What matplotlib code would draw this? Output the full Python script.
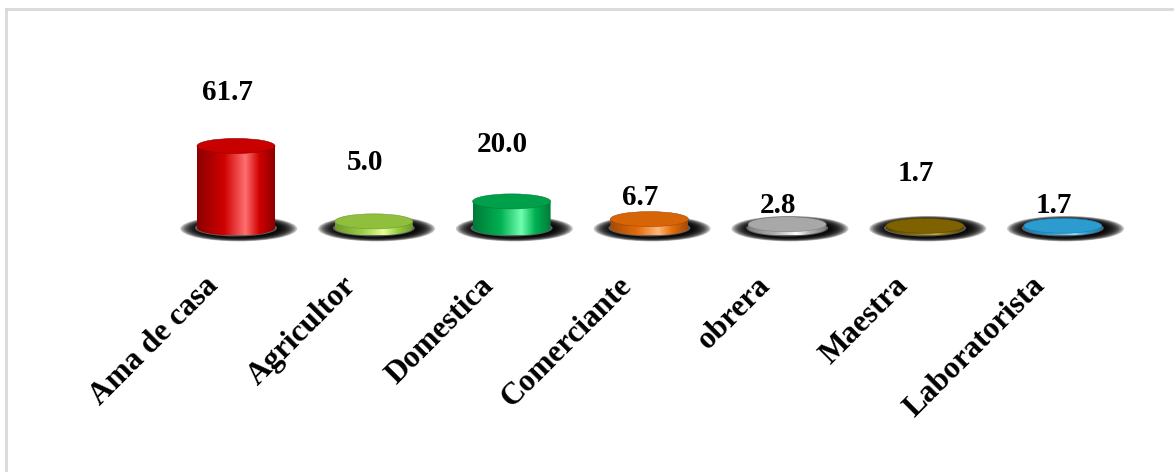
import numpy as np
import matplotlib
matplotlib.use('Agg')
import matplotlib.pyplot as plt
from matplotlib.patches import Ellipse, PathPatch
from matplotlib.path import Path
from matplotlib.lines import Line2D
from matplotlib.colors import LinearSegmentedColormap


categories = ['Ama de casa', 'Agricultor', 'Domestica', 'Comerciante',
              'obrera', 'Maestra', 'Laboratorista']
values = [61.7, 5.0, 20.0, 6.7, 2.8, 1.7, 1.7]
value_labels = ['61.7', '5.0', '20.0', '6.7', '2.8', '1.7', '1.7']

# (dark edge, base, highlight, top face) per bar
bar_colors = [
    ('#8c0000', '#d00000', '#ff7070', '#c80000'),
    ('#6f9a2a', '#9acd45', '#e4ff9a', '#8fbf3c'),
    ('#007a3a', '#00b050', '#70ffb0', '#00a04a'),
    ('#a34a06', '#e46c0a', '#ffb878', '#d86408'),
    ('#808080', '#b0b0b0', '#ffffff', '#a8a8a8'),
    ('#5a4300', '#8a6a00', '#c8a830', '#7f6200'),
    ('#1a78a8', '#2aa0d8', '#90e0ff', '#2b9bd0'),
]
# Excel placed the value labels at two different heights (pixels above bar top)
label_lift_px = [53, 59, 57, 22, 19, 52, 20]

W, H = 1174, 472
X0, DX = 236, 137.8        # pixel of first bar centre, spacing
BASE, PXY = 244, 1.33      # baseline pixels from bottom, pixels per unit

fig = plt.figure(figsize=(W / 100, H / 100), dpi=100)
ax = fig.add_axes([0, 0, 1, 1])
ax.set_axis_off()

bw = 78 / DX
eh = 15 / PXY

for i, (v, cols) in enumerate(zip(values, bar_colors)):
    dark, base, light, top = cols
    # blurred shadow
    for k in range(12):
        f = k / 11
        ax.add_patch(Ellipse((i + 0.02, -0.5), bw * (1.5 - 0.45 * f), eh * (1.7 - 0.5 * f),
                             facecolor='black', edgecolor='none', alpha=0.22, zorder=1))
    ax.add_patch(Ellipse((i, 0), bw * 1.05, eh * 1.12, facecolor='white',
                         edgecolor='none', alpha=0.35, zorder=2))
    # body
    t = np.linspace(np.pi, 2 * np.pi, 60)
    verts = [(i - bw / 2, v), (i - bw / 2, 0)]
    verts += list(zip(i + bw / 2 * np.cos(t), eh / 2 * np.sin(t)))
    verts += [(i + bw / 2, v), (i - bw / 2, v)]
    codes = [Path.MOVETO] + [Path.LINETO] * (len(verts) - 2) + [Path.CLOSEPOLY]
    body = PathPatch(Path(verts, codes), facecolor='none', edgecolor='none', zorder=3)
    ax.add_patch(body)
    cmap = LinearSegmentedColormap.from_list(
        'c%d' % i, [(0, dark), (0.35, base), (0.62, light), (0.8, base), (1, dark)])
    grad = np.linspace(0, 1, 256).reshape(1, -1)
    im = ax.imshow(grad, cmap=cmap, aspect='auto', interpolation='bilinear',
                   extent=[i - bw / 2, i + bw / 2, -eh / 2, v], zorder=3)
    im.set_clip_path(body)
    # top face
    ax.add_patch(Ellipse((i, v), bw, eh, facecolor=top, edgecolor=dark,
                         linewidth=0.4, zorder=4))
    # value label
    ax.annotate(value_labels[i], (i, v), xytext=(-9, label_lift_px[i]),
                textcoords='offset pixels', ha='center', va='center',
                fontsize=21, fontweight='bold', family='Liberation Serif', zorder=5)
    # category label
    ax.annotate(categories[i], (i, 0), xytext=(-32, -43),
                textcoords='offset pixels', ha='right', va='top', rotation=45,
                rotation_mode='anchor', fontsize=22.5, fontweight='bold',
                family='Liberation Serif')

ax.set_xlim(-X0 / DX, (W - X0) / DX)
ax.set_ylim(-BASE / PXY, (H - BASE) / PXY)

fig.add_artist(Line2D([6 / W, 1], [1 - 9 / H] * 2, transform=fig.transFigure,
                      color='#d9d9d9', lw=2))
fig.add_artist(Line2D([6 / W] * 2, [0, 1 - 9 / H], transform=fig.transFigure,
                      color='#d9d9d9', lw=2))

fig.savefig('out.png', dpi=100)
